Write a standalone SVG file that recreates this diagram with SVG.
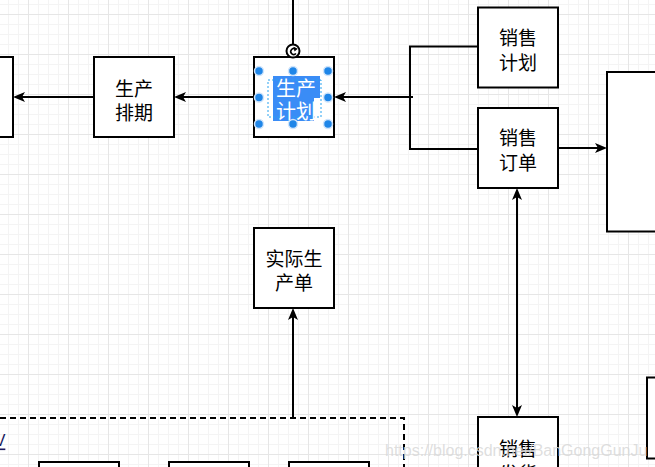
<svg xmlns="http://www.w3.org/2000/svg" width="655" height="467" viewBox="0 0 655 467">
<style>
.box{fill:#fff;stroke:#000;stroke-width:2}
.lbl{font-family:"Noto Sans CJK SC","Noto Sans",sans-serif;font-size:19px;fill:#000;text-anchor:middle;dominant-baseline:central}
.edge{fill:none;stroke:#000;stroke-width:2}
.arr{marker-end:url(#ah)}
.arr2{marker-start:url(#ah);marker-end:url(#ah)}
.handle{fill:#1f86e8;stroke:#cfe4fb;stroke-width:1.5}
</style>
<defs>
<pattern id="grid" width="40" height="40" patternUnits="userSpaceOnUse" x="28" y="14">
<rect x="10" y="0" width="1" height="40" fill="#f4f4f4"/>
<rect x="20" y="0" width="1" height="40" fill="#f4f4f4"/>
<rect x="30" y="0" width="1" height="40" fill="#f4f4f4"/>
<rect x="0" y="10" width="40" height="1" fill="#f4f4f4"/>
<rect x="0" y="20" width="40" height="1" fill="#f4f4f4"/>
<rect x="0" y="30" width="40" height="1" fill="#f4f4f4"/>
<rect x="0" y="0" width="1" height="40" fill="#e6e6e6"/>
<rect x="0" y="0" width="40" height="1" fill="#e6e6e6"/>
</pattern>
<marker id="ah" viewBox="0 0 12 10" refX="4" refY="5" markerWidth="12" markerHeight="10" markerUnits="userSpaceOnUse" orient="auto-start-reverse">
<path d="M0,0 L12,5 L0,10 L3,5 Z" fill="#000"/>
</marker>
</defs>
<rect width="655" height="467" fill="#fff"/>
<rect width="655" height="467" fill="url(#grid)"/>

<g id="container">
<path d="M-10,418 H404 V470" fill="none" stroke="#000" stroke-width="2" stroke-dasharray="6 4"/>
<text x="0" y="440" font-family="Liberation Sans,sans-serif" font-size="16" fill="#1a1a5e" text-anchor="middle" dominant-baseline="central" text-decoration="underline">V</text>
</g>

<g id="connectors">
<line class="edge arr" x1="94" y1="97" x2="21" y2="97"/>
<line class="edge arr" x1="254" y1="97" x2="182" y2="97"/>
<line class="edge arr" x1="413" y1="97" x2="342" y2="97"/>
<path class="edge" d="M478,46.5 H410 V149 H478"/>
<line class="edge arr" x1="558" y1="148" x2="599" y2="148"/>
<line class="edge arr2" x1="517" y1="196" x2="517" y2="409"/>
<line class="edge arr" x1="293" y1="418" x2="293" y2="316"/>
<line class="edge" x1="293" y1="0" x2="293" y2="44"/>
</g>

<g id="node-left"><rect class="box" x="-67" y="57" width="80" height="80"/></g>

<g id="node-scheduling">
<rect class="box" x="94" y="57" width="80" height="80"/>
<text class="lbl"><tspan x="134" y="86.5">生产</tspan><tspan x="134" y="110.5">排期</tspan></text>
</g>

<g id="node-production-plan">
<rect class="box" x="254" y="57" width="80" height="80"/>
<rect x="273" y="76" width="47" height="22" fill="#3a8cf6"/>
<rect x="273" y="98" width="41" height="23" fill="#3a8cf6"/>
<rect x="268" y="80" width="53" height="37" fill="none" stroke="#29a3f0" stroke-width="1" stroke-dasharray="2 2"/>
<text class="lbl" style="fill:#fff;font-size:20px"><tspan x="296" y="87">生产</tspan><tspan x="296" y="109.5">计划</tspan></text>
<circle class="handle" cx="259" cy="71" r="4.5"/>
<circle class="handle" cx="293" cy="71" r="4.5"/>
<circle class="handle" cx="328" cy="71" r="4.5"/>
<circle class="handle" cx="259" cy="97.5" r="4.5"/>
<circle class="handle" cx="328" cy="97.5" r="4.5"/>
<circle class="handle" cx="259" cy="124" r="4.5"/>
<circle class="handle" cx="293" cy="124" r="4.5"/>
<circle class="handle" cx="328" cy="124" r="4.5"/>
<circle cx="293" cy="51" r="6.5" fill="#fff" stroke="#000" stroke-width="2"/>
<path d="M295.5,49 A3,3 0 1 0 296,53.5" fill="none" stroke="#000" stroke-width="1.6"/>
<path d="M293.5,46.8 L297.8,48.8 L294.5,51.5 Z" fill="#000"/>
</g>

<g id="node-sales-plan">
<rect class="box" x="478" y="7.5" width="80" height="80"/>
<text class="lbl"><tspan x="518" y="36">销售</tspan><tspan x="518" y="61">计划</tspan></text>
</g>

<g id="node-sales-order">
<rect class="box" x="478" y="108" width="80" height="80"/>
<text class="lbl"><tspan x="518" y="136">销售</tspan><tspan x="518" y="161">订单</tspan></text>
</g>

<g id="node-right-big"><rect class="box" x="607" y="72" width="80" height="159.5"/></g>

<g id="node-actual-production">
<rect class="box" x="254" y="228" width="80" height="80"/>
<text class="lbl"><tspan x="294" y="256.5">实际生</tspan><tspan x="294" y="280.5">产单</tspan></text>
</g>

<g id="node-sales-delivery">
<rect class="box" x="478" y="417" width="80" height="80"/>
<text class="lbl"><tspan x="518" y="447">销售</tspan><tspan x="518" y="472">发货</tspan></text>
</g>

<g id="node-right-bottom"><rect class="box" x="647" y="377.5" width="80" height="81"/></g>

<g id="node-bottom-1"><rect class="box" x="39" y="462" width="80" height="80"/></g>
<g id="node-bottom-2"><rect class="box" x="169" y="462" width="80" height="80"/></g>
<g id="node-bottom-3"><rect class="box" x="289" y="462" width="80" height="80"/></g>

<text x="385" y="456" font-family="Liberation Sans,Arial,sans-serif" font-size="16" fill="#d8d8d8" fill-opacity="0.85">https://blog.csdn.net/BanGongGunJu</text>
</svg>
